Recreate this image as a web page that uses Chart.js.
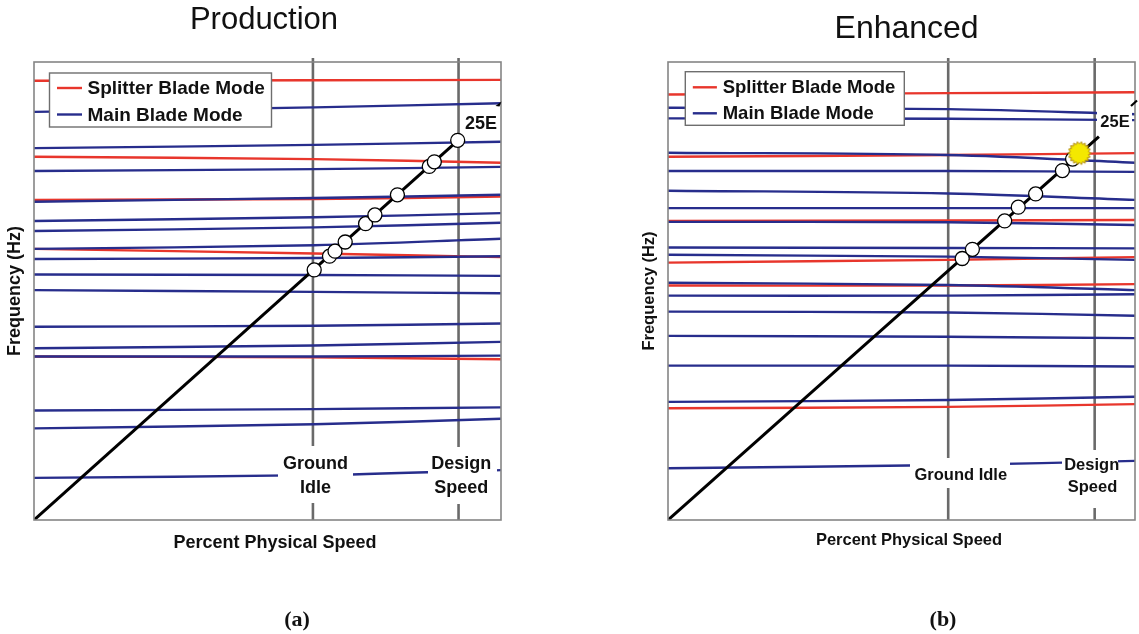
<!DOCTYPE html>
<html><head><meta charset="utf-8">
<script src="https://cdn.jsdelivr.net/npm/chart.js@4/dist/chart.umd.min.js"></script>
<style>
html,body{margin:0;padding:0;background:#fff;}
#wrap{position:relative;width:1139px;height:634px;overflow:hidden;background:#fff;}
canvas{position:absolute;top:0;}
#ca{left:0;}
#cb{left:570px;}
</style></head><body>
<div id="wrap"><canvas id="ca" width="570" height="634"></canvas><canvas id="cb" width="569" height="634"></canvas></div>
<script>
// ---------- DATA (x = percent physical speed, design speed = 100; y = relative frequency) ----------
const modeSpeeds = [0, 66, 110];           // speeds at which each mode line was read
const markerLabels = ['Ground Idle', 'Design Speed'];
const legendLabels = ['Splitter Blade Mode', 'Main Blade Mode'];

// (a) Production
const prodMarkerSpeeds = [65.7, 100];
const prodSplitter = [
  [95.9, 96.0, 96.1],
  [79.3, 78.8, 78.0],
  [69.9, 70.1, 70.6],
  [59.2, 58.2, 57.4],
  [35.7, 35.5, 35.1]
];
const prodMain = [
  [89.1, 90.1, 91.0],
  [81.2, 81.9, 82.6],
  [76.2, 76.6, 77.1],
  [69.5, 70.3, 71.0],
  [65.3, 66.1, 67.0],
  [63.1, 63.9, 64.9],
  [59.2, 60.0, 61.4],
  [57.0, 57.2, 57.6],
  [53.6, 53.5, 53.3],
  [50.2, 49.8, 49.5],
  [42.2, 42.4, 42.9],
  [37.5, 38.1, 38.9],
  [35.7, 35.7, 35.9],
  [23.9, 24.2, 24.6],
  [20.0, 20.9, 22.1],
  [9.2, 9.8, 10.9]
];
const prodOrderX = [0, 100];
const prodOrderY = [0, 83.0];
const prodCrossX = [66.0, 69.6, 70.9, 73.3, 78.1, 80.3, 85.6, 93.1, 94.3, 99.8];
const prodCrossY = [54.6, 57.6, 58.7, 60.7, 64.7, 66.6, 71.0, 77.2, 78.2, 82.9];

// (b) Enhanced
const enhMarkerSpeeds = [66, 100.5];
const enhSplitter = [
  [92.9, 93.2, 93.4],
  [79.3, 79.7, 80.1],
  [65.3, 65.4, 65.5],
  [56.2, 56.8, 57.4],
  [51.2, 51.2, 51.5],
  [24.4, 24.7, 25.3]
];
const enhMain = [
  [90.0, 89.7, 88.6],
  [87.7, 87.6, 87.3],
  [80.2, 79.7, 78.0],
  [76.2, 76.2, 76.0],
  [71.9, 71.3, 69.9],
  [68.1, 68.1, 68.1],
  [65.1, 65.0, 64.4],
  [59.5, 59.4, 59.3],
  [57.9, 57.5, 56.8],
  [51.8, 51.3, 50.2],
  [49.0, 49.0, 49.3],
  [45.5, 45.3, 44.6],
  [40.2, 40.0, 39.7],
  [33.7, 33.7, 33.5],
  [25.8, 26.2, 26.9],
  [11.3, 12.0, 12.9]
];
const enhOrderX = [0, 101.5];
const enhOrderY = [0, 83.7];
const enhCrossX = [69.3, 71.7, 79.3, 82.5, 86.6, 92.9, 95.3];
const enhCrossY = [57.1, 59.1, 65.3, 68.3, 71.2, 76.3, 78.8];
const enhCriticalX = [96.9];
const enhCriticalY = [80.1];

// ---------- STYLE ----------
const RED = '#e8362c', BLUE = '#272d8c', SANS = '"Liberation Sans", Arial, sans-serif';
const legendColors = [RED, BLUE];

function starburst() {
  const c = document.createElement('canvas'); c.width = 26; c.height = 26;
  const g = c.getContext('2d'); g.translate(13, 13);
  g.beginPath();
  const n = 18;
  for (let i = 0; i < n * 2; i++) { const r = i % 2 ? 9.2 : 11.6; const t = i * Math.PI / n; g.lineTo(r * Math.cos(t), r * Math.sin(t)); }
  g.closePath(); g.fillStyle = '#f4e800'; g.fill(); g.strokeStyle = '#b08a10'; g.lineWidth = 1; g.stroke();
  return c;
}

const panelDecor = {
  ca: {
    offset: 0, markers: prodMarkerSpeeds,
    title: {text: 'Production', x: 264, y: 29, font: '31px ' + SANS},
    yTitle: {text: 'Frequency (Hz)', x: 20, y: 291, font: 'bold 18px ' + SANS},
    xTitle: {text: 'Percent Physical Speed', x: 275, y: 548, font: 'bold 18px ' + SANS},
    legend: {box: [49.5, 73, 222, 54], sample: [57, 82], rows: [88, 114.5], textX: 87.5, font: 'bold 19px ' + SANS},
    cutouts: [[278, 446, 75, 57], [428, 447, 69, 57]],
    labelFont: 'bold 18px ' + SANS,
    labels: [['Ground', 315.5, 463.5], ['Idle', 315.5, 486.7], ['Design', 461.3, 463.5], ['Speed', 461.3, 486.7], ['25E', 481, 123]],
    ticks: [{type: 'wedge', pts: [[495.5, 106], [501.5, 101.5], [499.5, 106.5]]}],
    caption: {text: '(a)', x: 297, y: 620}
  },
  cb: {
    offset: 570, markers: enhMarkerSpeeds,
    title: {text: 'Enhanced', x: 906.6, y: 38.3, font: '32px ' + SANS},
    yTitle: {text: 'Frequency (Hz)', x: 654, y: 291, font: 'bold 16.5px ' + SANS},
    xTitle: {text: 'Percent Physical Speed', x: 909, y: 545, font: 'bold 16.5px ' + SANS},
    legend: {box: [685.3, 71.7, 219, 53.6], sample: [692.8, 716.9], rows: [87.3, 113.3], textX: 722.7, font: 'bold 18.5px ' + SANS},
    cutouts: [[910, 458, 100, 30], [1062, 450, 56, 58], [1097, 106, 35, 26]],
    labelFont: 'bold 16.5px ' + SANS,
    labels: [['Ground Idle', 960.8, 474], ['Design', 1091.7, 464], ['Speed', 1092.5, 486], ['25E', 1115, 121]],
    ticks: [{type: 'stroke', pts: [[1131, 106], [1137, 100.5]]}],
    caption: {text: '(b)', x: 943, y: 620}
  }
};

const decorPlugin = {
  id: 'decor',
  beforeDatasetsDraw(chart) {
    const d = panelDecor[chart.canvas.id], ctx = chart.ctx, a = chart.chartArea, xs = chart.scales.x;
    ctx.save();
    ctx.strokeStyle = '#6a6a6a'; ctx.lineWidth = 2.6;
    d.markers.forEach(v => {
      const px = xs.getPixelForValue(v);
      ctx.beginPath(); ctx.moveTo(px, a.top - 4); ctx.lineTo(px, a.bottom); ctx.stroke();
    });
    ctx.restore();
  },
  afterDatasetsDraw(chart) {
    const d = panelDecor[chart.canvas.id], ctx = chart.ctx, a = chart.chartArea, o = d.offset;
    ctx.save();
    ctx.fillStyle = '#fff';
    d.cutouts.forEach(r => ctx.fillRect(r[0] - o, r[1], r[2], r[3]));
    ctx.strokeStyle = '#858585'; ctx.lineWidth = 1.6;
    ctx.strokeRect(a.left, a.top, a.right - a.left, a.bottom - a.top);
    // small arrow marks
    d.ticks.forEach(t => {
      ctx.beginPath();
      t.pts.forEach((p, i) => i ? ctx.lineTo(p[0] - o, p[1]) : ctx.moveTo(p[0] - o, p[1]));
      if (t.type === 'wedge') { ctx.closePath(); ctx.fillStyle = '#000'; ctx.fill(); }
      else { ctx.strokeStyle = '#000'; ctx.lineWidth = 2.2; ctx.stroke(); }
    });
    // legend
    const L = d.legend;
    ctx.fillStyle = '#fff'; ctx.fillRect(L.box[0] - o, L.box[1], L.box[2], L.box[3]);
    ctx.strokeStyle = '#6e6e6e'; ctx.lineWidth = 1.4; ctx.strokeRect(L.box[0] - o, L.box[1], L.box[2], L.box[3]);
    legendLabels.forEach((t, i) => {
      ctx.strokeStyle = legendColors[i]; ctx.lineWidth = 2.4;
      ctx.beginPath(); ctx.moveTo(L.sample[0] - o, L.rows[i]); ctx.lineTo(L.sample[1] - o, L.rows[i]); ctx.stroke();
      ctx.fillStyle = '#111'; ctx.font = L.font; ctx.textAlign = 'left'; ctx.textBaseline = 'middle';
      ctx.fillText(t, L.textX - o, L.rows[i] + 1);
    });
    // texts
    ctx.fillStyle = '#111';
    ctx.textAlign = 'center';
    ctx.textBaseline = 'alphabetic';
    ctx.font = d.title.font; ctx.fillText(d.title.text, d.title.x - o, d.title.y);
    ctx.font = d.xTitle.font; ctx.fillText(d.xTitle.text, d.xTitle.x - o, d.xTitle.y);
    ctx.save();
    ctx.translate(d.yTitle.x - o, d.yTitle.y); ctx.rotate(-Math.PI / 2);
    ctx.font = d.yTitle.font; ctx.fillText(d.yTitle.text, 0, 0);
    ctx.restore();
    ctx.textBaseline = 'middle';
    ctx.font = d.labelFont;
    d.labels.forEach(l => ctx.fillText(l[0], l[1] - o, l[2] + 1));
    ctx.font = 'bold 22px "Liberation Serif", "Times New Roman", serif';
    ctx.fillText(d.caption.text, d.caption.x - o, d.caption.y);
    ctx.restore();
  }
};

function modeSet(ys, color, order) {
  return {data: modeSpeeds.map((x, i) => ({x, y: ys[i]})), borderColor: color, borderWidth: 2.4,
          pointRadius: 0, tension: 0.35, fill: false, order};
}
function orderSet(xs, ys) {
  return {data: xs.map((x, i) => ({x, y: ys[i]})), borderColor: '#000', borderWidth: 3, pointRadius: 0, order: 1};
}
function crossSet(xs, ys) {
  return {data: xs.map((x, i) => ({x, y: ys[i]})), showLine: false, pointRadius: 7, pointHoverRadius: 7,
          pointBackgroundColor: '#fff', pointBorderColor: '#000', pointBorderWidth: 1.3, order: 0};
}

function makeChart(id, splitter, main, ox, oy, cx, cy, extra, pad) {
  const datasets = [crossSet(cx, cy)];
  if (extra) datasets.push(extra);
  datasets.push(orderSet(ox, oy));
  main.forEach(m => datasets.push(modeSet(m, BLUE, 2)));
  splitter.forEach(s => datasets.push(modeSet(s, RED, 3)));
  return new Chart(document.getElementById(id), {
    type: 'line',
    data: {datasets},
    options: {
      responsive: false, animation: false, devicePixelRatio: 1,
      layout: {padding: pad, autoPadding: false},
      scales: {
        x: {type: 'linear', min: 0, max: 110, display: false},
        y: {type: 'linear', min: 0, max: 100, display: false}
      },
      plugins: {legend: {display: false}, title: {display: false}, tooltip: {enabled: false}},
      events: []
    },
    plugins: [decorPlugin]
  });
}

makeChart('ca', prodSplitter, prodMain, prodOrderX, prodOrderY, prodCrossX, prodCrossY, null,
  {left: 34, right: 69, top: 62, bottom: 114});
const critical = {data: enhCriticalX.map((x, i) => ({x, y: enhCriticalY[i]})), showLine: false,
  pointStyle: starburst(), pointRadius: 11, order: -1};
makeChart('cb', enhSplitter, enhMain, enhOrderX, enhOrderY, enhCrossX, enhCrossY, critical,
  {left: 98, right: 4, top: 62, bottom: 114});
</script>
</body></html>
